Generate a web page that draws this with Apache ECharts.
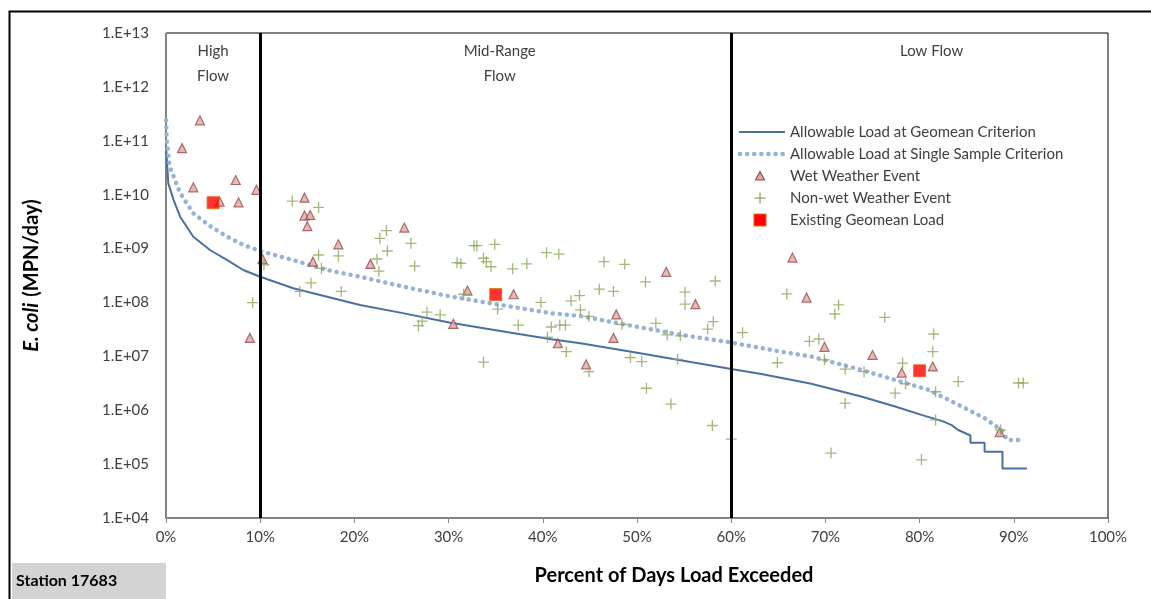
<!DOCTYPE html>
<html>
<head>
<meta charset="utf-8">
<script src="https://cdn.jsdelivr.net/npm/echarts@6/dist/echarts.min.js"></script>
<style>
  html, body { margin: 0; padding: 0; background: #fff; }
  #main { width: 1151px; height: 599px; }
</style>
</head>
<body>
<div id="main"></div>
<script>
// tick labels
var xTicks = [0, 10, 20, 30, 40, 50, 60, 70, 80, 90, 100]
var yTickLabels = ['1.E+04', '1.E+05', '1.E+06', '1.E+07', '1.E+08', '1.E+09', '1.E+10', '1.E+11', '1.E+12', '1.E+13']
var flowBreaks = [10, 60]
var flowZones = [['High\nFlow', 0, 10], ['Mid-Range\nFlow', 10, 60], ['Low Flow', 60, 100]]

// allowable load curves [percent exceeded, MPN/day]
var geomeanCurve = [
  [0, 7.8e10], [0.25, 1.6e10], [0.8, 8e9], [1.5, 3.9e9], [2.9, 1.66e9], [4.7, 9.3e8], [6.5, 6.1e8],
  [8.2, 4.0e8], [10, 3.0e8], [13.5, 1.83e8], [17.1, 1.28e8], [20.6, 9.0e7], [25, 6.4e7], [30.2, 4.2e7],
  [35.5, 2.95e7], [40.9, 2.07e7], [44, 1.75e7], [49.4, 1.22e7], [54, 8.8e6], [60, 5.8e6], [63.2, 4.7e6],
  [68.5, 3.1e6], [73.8, 1.8e6], [77.4, 1.17e6], [80.2, 8.2e5], [82.5, 6.2e5], [83.4, 5.3e5], [84.1, 4.3e5],
  [85.4, 3.4e5], [85.4, 2.5e5], [86.9, 2.5e5], [86.9, 1.7e5], [88.8, 1.7e5], [88.8, 8.3e4], [91.4, 8.3e4]
]
var singleSampleCurve = [
  [0, 2.4e11], [0.1, 9e10], [0.4, 3.3e10], [1.5, 1.07e10], [2.9, 4.5e9], [4.7, 2.6e9], [6.5, 1.66e9],
  [8.2, 1.17e9], [10, 9.0e8], [13.5, 6.1e8], [17.1, 4.0e8], [20.6, 3.0e8], [25, 2.0e8], [30.2, 1.29e8],
  [35.5, 9.0e7], [40.9, 6.3e7], [44, 5.6e7], [49.4, 3.7e7], [54.7, 2.5e7], [60, 1.8e7], [65.3, 1.22e7],
  [68.5, 9.9e6], [73.8, 5.6e6], [77.4, 3.65e6], [80.9, 2.4e6], [84.5, 1.17e6], [86.9, 7.1e5],
  [88.7, 4.3e5], [89.3, 2.8e5], [91.0, 2.8e5]
]

// samples
var wetEvents = [
  [1.7, 7.3e10], [2.9, 1.37e10], [3.6, 2.4e11], [5.7, 7.4e9], [7.4, 1.87e10], [7.7, 7.2e9], [8.9, 2.2e7],
  [9.6, 1.23e10], [10.25, 6.4e8], [14.7, 8.8e9], [14.7, 4.1e9], [15.3, 4.2e9], [15.0, 2.6e9], [15.6, 5.7e8],
  [18.3, 1.2e9], [21.7, 5.2e8], [25.3, 2.45e9], [30.5, 4.0e7], [32.0, 1.66e8], [36.9, 1.42e8], [41.6, 1.75e7],
  [44.6, 7.1e6], [47.5, 2.2e7], [47.8, 6.0e7], [53.1, 3.7e8], [56.2, 9.3e7], [66.5, 6.8e8], [68.0, 1.23e8],
  [69.9, 1.5e7], [75.0, 1.06e7], [78.1, 5.0e6], [81.4, 6.5e6], [88.5, 3.9e5]
]
var dryEvents = [
  [9.2, 9.9e7], [10.4, 5.0e8], [13.4, 7.6e9], [14.2, 1.6e8], [15.4, 2.3e8], [16.2, 5.8e9], [16.2, 7.6e8],
  [16.5, 4.3e8], [18.3, 7.3e8], [18.6, 1.6e8], [22.4, 6.4e8], [22.6, 3.8e8], [22.7, 1.55e9], [23.4, 2.15e9],
  [23.5, 9.0e8], [26.0, 1.25e9], [26.4, 4.75e8], [26.8, 3.7e7], [27.2, 4.5e7], [27.7, 6.6e7], [29.1, 5.9e7],
  [30.9, 5.5e8], [31.3, 5.3e8], [31.6, 1.42e8], [32.7, 1.13e9], [33.0, 1.13e9], [33.7, 6.6e8], [33.7, 7.8e6],
  [34.0, 5.7e8], [34.5, 4.6e8], [34.9, 1.2e9], [35.2, 7.5e7], [36.8, 4.2e8], [37.4, 3.8e7], [38.3, 5.2e8],
  [39.8, 1.0e8], [40.4, 8.4e8], [40.5, 2.26e7], [40.9, 3.5e7], [41.7, 7.9e8], [41.8, 3.8e7], [42.4, 3.8e7],
  [42.5, 1.22e7], [43.0, 1.07e8], [43.9, 1.34e8], [44.0, 7.3e7], [44.9, 5.5e7], [44.9, 5.2e6], [46.0, 1.76e8],
  [46.5, 5.7e8], [47.5, 1.6e8], [48.4, 3.9e7], [48.7, 5.1e8], [49.3, 9.5e6], [50.5, 8.0e6], [50.9, 2.4e8],
  [51.0, 2.56e6], [52.0, 4.1e7], [53.2, 2.5e7], [53.6, 1.3e6], [54.3, 8.8e6], [54.6, 2.4e7], [55.1, 1.55e8],
  [55.1, 9.3e7], [57.5, 3.2e7], [58.0, 5.2e5], [58.1, 4.4e7], [58.3, 2.5e8], [60.0, 2.9e5], [61.2, 2.75e7],
  [64.9, 7.6e6], [65.9, 1.44e8], [68.3, 1.9e7], [69.3, 2.1e7], [69.9, 8.6e6], [70.6, 1.6e5], [71.0, 6.1e7],
  [71.4, 9.0e7], [72.1, 5.8e6], [72.1, 1.35e6], [74.1, 5.2e6], [76.3, 5.3e7], [77.4, 2.07e6], [78.2, 7.5e6],
  [78.5, 3.1e6], [80.2, 1.2e5], [81.4, 1.22e7], [81.5, 2.6e7], [81.7, 2.2e6], [81.7, 6.6e5], [84.1, 3.4e6],
  [88.6, 4.3e5], [90.5, 3.2e6], [91.0, 3.2e6]
]
var geomeanLoads = [[5, 7.1e9], [35, 1.4e8], [80, 5.4e6]]

var legendNames = [
  'Allowable Load at Geomean Criterion',
  'Allowable Load at Single Sample Criterion',
  'Wet Weather Event',
  'Non-wet Weather Event',
  'Existing Geomean Load'
]

var plusPath = 'path://M4.4,0 H5.6 V4.4 H10 V5.6 H5.6 V10 H4.4 V5.6 H0 V4.4 H4.4 Z'
var FONT = 'Lato'
var TXT = '#404040'
var GEO_BLUE = '#4A6FA5', SS_BLUE = '#95B3D7'
var WET_FILL = '#D9A9A8', WET_EDGE = '#9E4A48', DRY_GREEN = '#8DA858'

// legend drawn by hand (rows 22px apart, text at x=790)
var legendGraphic = []
legendNames.forEach(function (nm, i) {
  var cy = 132 + i * 22
  legendGraphic.push({ type: 'text', x: 790, y: cy, silent: true,
    style: { text: nm, fontFamily: FONT, fontSize: 15, fill: TXT, verticalAlign: 'middle' } })
})
legendGraphic.push(
  { type: 'line', silent: true, shape: { x1: 739, y1: 132, x2: 785, y2: 132 }, style: { stroke: GEO_BLUE, lineWidth: 2 } },
  { type: 'line', silent: true, shape: { x1: 740, y1: 154, x2: 785, y2: 154 }, style: { stroke: SS_BLUE, lineWidth: 4.5, lineDash: [0.1, 7], lineCap: 'round' } },
  { type: 'polygon', silent: true, shape: { points: [[760, 171.5], [764.5, 180], [755.5, 180]] }, style: { fill: WET_FILL, stroke: WET_EDGE, lineWidth: 1.2 } },
  { type: 'rect', silent: true, shape: { x: 754.5, y: 197.4, width: 11, height: 1.3 }, style: { fill: DRY_GREEN } },
  { type: 'rect', silent: true, shape: { x: 759.4, y: 192.5, width: 1.3, height: 11 }, style: { fill: DRY_GREEN } },
  { type: 'rect', silent: true, shape: { x: 754, y: 214, width: 12, height: 12 }, style: { fill: '#FF0000', stroke: '#E46C0A', lineWidth: 1 } }
)

var myChart = echarts.init(document.getElementById('main'))
myChart.setOption({
  animation: false,
  textStyle: { fontFamily: FONT },
  grid: { left: 166, right: 43, top: 33, bottom: 81, show: true, borderColor: '#000', borderWidth: 1 },
  xAxis: {
    type: 'value', min: xTicks[0], max: xTicks[xTicks.length - 1], interval: 10,
    splitLine: { show: false },
    axisLine: { lineStyle: { color: '#868686' } },
    axisTick: { show: true, length: 5, lineStyle: { color: '#868686' } },
    axisLabel: { fontSize: 15, color: TXT, margin: 12, formatter: function (v) { return v + '%' } }
  },
  yAxis: {
    type: 'log', logBase: 10, min: 1e4, max: 1e13, splitNumber: 9,
    splitLine: { show: false },
    axisLine: { show: true, lineStyle: { color: '#868686' } },
    axisTick: { show: false },
    axisLabel: {
      fontSize: 15, color: TXT, margin: 17,
      formatter: function (v) { return yTickLabels[Math.round(Math.log10(v)) - 4] }
    },
    name: '{i|E. coli}  {b|(MPN/day)}', nameLocation: 'middle', nameGap: 124,
    nameTextStyle: {
      rich: {
        i: { fontFamily: FONT, fontSize: 20, fontWeight: 'bold', fontStyle: 'italic', color: '#000' },
        b: { fontFamily: FONT, fontSize: 20, fontWeight: 'bold', color: '#000' }
      }
    }
  },
  series: [
    {
      name: legendNames[0], type: 'line', data: geomeanCurve,
      symbol: 'none', color: GEO_BLUE, lineStyle: { color: GEO_BLUE, width: 2 }, z: 2,
      markArea: {
        silent: true,
        itemStyle: { color: 'rgba(0,0,0,0)' },
        label: { position: 'insideTop', distance: 6, fontFamily: FONT, fontSize: 15, color: TXT, lineHeight: 25 },
        data: flowZones.map(function (z, i) {
          var off = [[0, 0], [4, 0], [12, 0]][i]
          return [{ name: z[0], xAxis: z[1], label: { offset: off } }, { xAxis: z[2] }]
        })
      },
      markLine: {
        silent: true, symbol: 'none', label: { show: false },
        lineStyle: { color: '#000', width: 3, type: 'solid' },
        data: flowBreaks.map(function (b) { return { xAxis: b } })
      }
    },
    {
      name: legendNames[1], type: 'line', data: singleSampleCurve,
      symbol: 'none', color: SS_BLUE,
      lineStyle: { color: SS_BLUE, width: 4.5, type: [0.1, 7], cap: 'round' }, z: 2
    },
    {
      name: legendNames[2], type: 'scatter', data: wetEvents, symbol: 'triangle', symbolSize: 9,
      itemStyle: { color: WET_FILL, borderColor: WET_EDGE, borderWidth: 1.2 }, z: 3
    },
    {
      name: legendNames[3], type: 'scatter', data: dryEvents, symbol: plusPath, symbolSize: 11,
      itemStyle: { color: DRY_GREEN }, z: 4
    },
    {
      name: legendNames[4], type: 'scatter', data: geomeanLoads, symbol: 'rect', symbolSize: 12,
      itemStyle: { color: '#FF0000', borderColor: '#E46C0A', borderWidth: 1 }, z: 5
    }
  ],
  graphic: [
    { type: 'rect', left: 7, top: 9, shape: { width: 1170, height: 620 }, style: { fill: 'none', stroke: '#000', lineWidth: 2 }, silent: true },
    { type: 'rect', left: 12, top: 563, shape: { width: 154, height: 36 }, style: { fill: '#D3D3D3' }, silent: true },
    { type: 'text', x: 16, y: 581, style: { text: 'Station 17683', fontFamily: FONT, fontSize: 16, fontWeight: 'bold', fill: '#000', verticalAlign: 'middle' } },
    { type: 'text', x: 674, y: 576, style: { text: 'Percent of Days Load Exceeded', fontFamily: FONT, fontSize: 20, fontWeight: 'bold', fill: '#000', align: 'center', verticalAlign: 'middle' } }
  ].concat(legendGraphic)
})
</script>
</body>
</html>
